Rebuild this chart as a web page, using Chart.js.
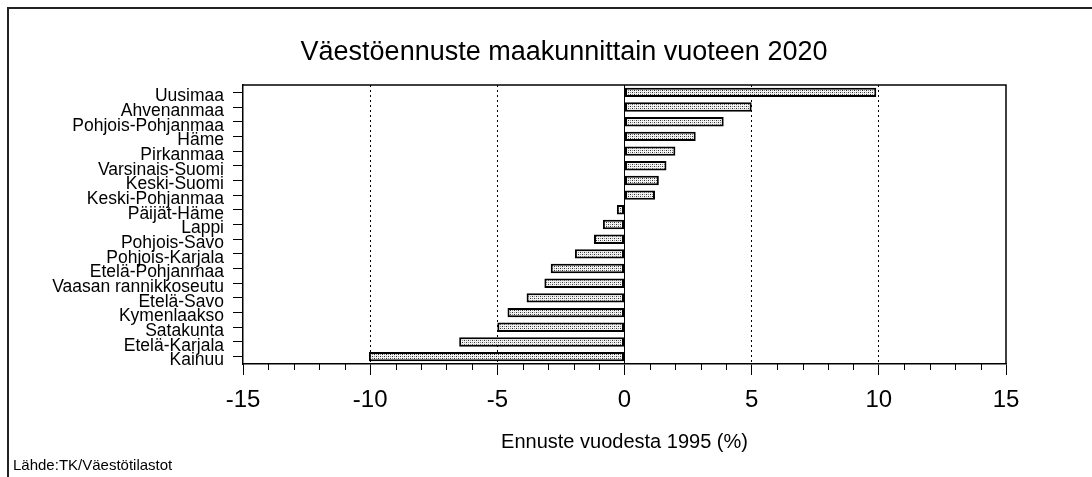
<!DOCTYPE html>
<html>
<head>
<meta charset="utf-8">
<script src="https://cdn.jsdelivr.net/npm/chart.js@4/dist/chart.umd.min.js"></script>
<style>
  html, body { margin: 0; padding: 0; background: #fff; }
  #wrap { width: 1092px; height: 477px; position: relative; }
</style>
</head>
<body>
<div id="wrap"><canvas id="c" width="1092" height="477"></canvas></div>
<script>
const titleText = 'Väestöennuste maakunnittain vuoteen 2020';
const axisTitle = 'Ennuste vuodesta 1995 (%)';
const sourceText = 'Lähde:TK/Väestötilastot';

const categories = [
  'Uusimaa', 'Ahvenanmaa', 'Pohjois-Pohjanmaa', 'Häme', 'Pirkanmaa',
  'Varsinais-Suomi', 'Keski-Suomi', 'Keski-Pohjanmaa', 'Päijät-Häme', 'Lappi',
  'Pohjois-Savo', 'Pohjois-Karjala', 'Etelä-Pohjanmaa', 'Vaasan rannikkoseutu',
  'Etelä-Savo', 'Kymenlaakso', 'Satakunta', 'Etelä-Karjala', 'Kainuu'
];
const values = [
  9.9, 5.0, 3.9, 2.8, 2.0,
  1.65, 1.35, 1.2, -0.3, -0.85,
  -1.2, -1.95, -2.9, -3.15,
  -3.85, -4.6, -5.0, -6.5, -10.05
];
const xMin = -15, xMax = 15, xMajorStep = 5, xMinorStep = 1;
const gridValues = [-10, -5, 0, 5, 10];

const FONT = "'Liberation Sans', Arial, Helvetica, sans-serif";

function makePattern() {
  const p = document.createElement('canvas');
  p.width = 4; p.height = 4;
  const g = p.getContext('2d');
  g.fillStyle = '#f2f2f2';
  g.fillRect(0, 0, 4, 4);
  g.fillStyle = '#303030';
  g.fillRect(0, 0, 1, 1);
  g.fillRect(2, 2, 1, 1);
  g.fillStyle = '#8a8a8a';
  g.fillRect(2, 0, 1, 1);
  g.fillRect(0, 2, 1, 1);
  return document.getElementById('c').getContext('2d').createPattern(p, 'repeat');
}

const decor = {
  id: 'decor',
  beforeDraw(chart) {
    const ctx = chart.ctx;
    ctx.save();
    ctx.fillStyle = '#fff';
    ctx.fillRect(0, 0, chart.width, chart.height);
    ctx.strokeStyle = '#222';
    ctx.lineWidth = 2;
    ctx.beginPath();
    ctx.moveTo(8, 477);
    ctx.lineTo(8, 8);
    ctx.lineTo(1092, 8);
    ctx.stroke();
    ctx.restore();
  },
  afterDraw(chart) {
    const ctx = chart.ctx;
    const a = chart.chartArea;
    const xs = chart.scales.x;
    ctx.save();
    // plot box (top and right edges)
    ctx.strokeStyle = '#000';
    ctx.lineWidth = 1.5;
    ctx.beginPath();
    ctx.moveTo(a.left, a.top);
    ctx.lineTo(a.right, a.top);
    ctx.lineTo(a.right, a.bottom);
    ctx.stroke();
    // minor ticks
    ctx.lineWidth = 1;
    ctx.beginPath();
    for (let v = xMin; v <= xMax; v += xMinorStep) {
      if (v % xMajorStep === 0) continue;
      const x = Math.round(xs.getPixelForValue(v)) + 0.5;
      ctx.moveTo(x, a.bottom);
      ctx.lineTo(x, a.bottom + 6);
    }
    ctx.stroke();
    // title
    ctx.fillStyle = '#000';
    ctx.font = '27px ' + FONT;
    ctx.textAlign = 'center';
    ctx.textBaseline = 'middle';
    ctx.fillText(titleText, 564, 53);
    // source
    ctx.font = '15px ' + FONT;
    ctx.textAlign = 'left';
    ctx.fillText(sourceText, 13, 466);
    ctx.restore();
  }
};

const ctx = document.getElementById('c').getContext('2d');
const pattern = makePattern();

new Chart(ctx, {
  type: 'bar',
  data: {
    labels: categories,
    datasets: [{
      data: values,
      backgroundColor: pattern,
      borderColor: '#000',
      borderWidth: 2,
      borderSkipped: false,
      barPercentage: 0.64,
      categoryPercentage: 1.0
    }]
  },
  options: {
    indexAxis: 'y',
    responsive: false,
    animation: false,
    devicePixelRatio: 1,
    layout: { padding: { top: 85, right: 86, bottom: 0, left: 0 } },
    plugins: {
      legend: { display: false },
      tooltip: { enabled: false },
      title: { display: false }
    },
    scales: {
      x: {
        type: 'linear',
        min: xMin,
        max: xMax,
        afterFit(scale) { scale.height = 113; },
        ticks: {
          stepSize: xMajorStep,
          color: '#000',
          padding: 11,
          font: { family: FONT, size: 24 }
        },
        grid: {
          drawOnChartArea: true,
          drawTicks: true,
          tickLength: 11,
          tickColor: '#000',
          lineWidth: 1,
          color(c) {
            const v = c.tick && c.tick.value;
            return gridValues.includes(v) ? '#000' : 'rgba(0,0,0,0)';
          }
        },
        border: {
          display: true,
          color: '#000',
          width: 1.5,
          dash(c) {
            const v = c.tick && c.tick.value;
            return v === 0 ? [] : [2, 3];
          }
        },
        title: {
          display: true,
          text: axisTitle,
          color: '#000',
          font: { family: FONT, size: 20 },
          padding: { top: 0, bottom: 23 }
        }
      },
      y: {
        afterFit(scale) { scale.width = 243; },
        ticks: {
          color: '#000',
          padding: 9,
          autoSkip: false,
          labelOffset: 4,
          font: { family: FONT, size: 17.5, lineHeight: 1 }
        },
        grid: {
          offset: false,
          drawOnChartArea: false,
          drawTicks: true,
          tickLength: 10,
          tickColor: '#000',
          color: '#000'
        },
        border: { display: true, color: '#000', width: 1.5 }
      }
    }
  },
  plugins: [decor]
});
</script>
</body>
</html>
